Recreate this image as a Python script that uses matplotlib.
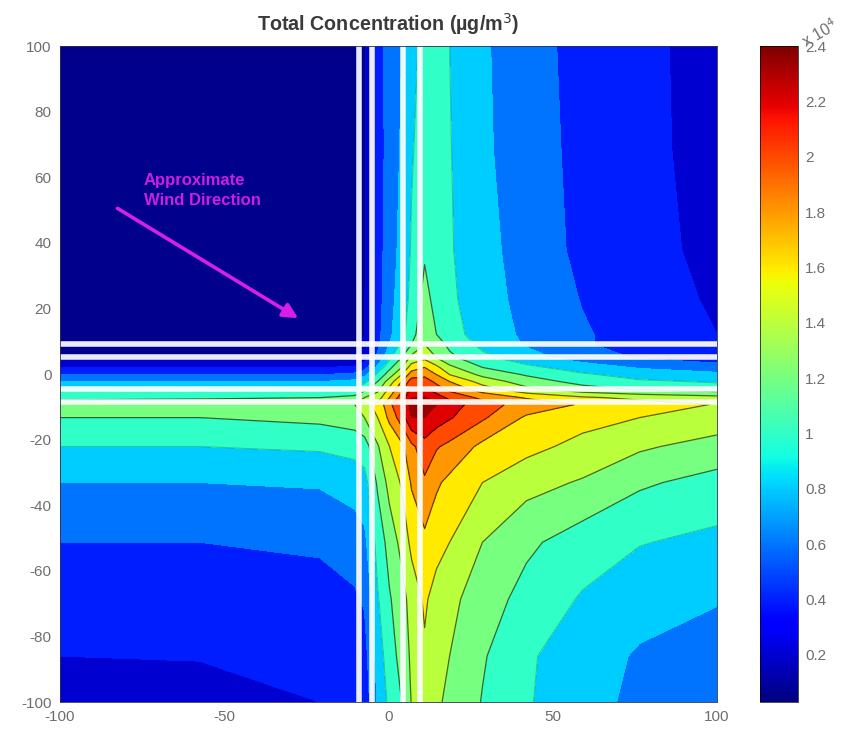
import matplotlib
matplotlib.use("Agg")
import numpy as np
import matplotlib.pyplot as plt
from matplotlib.cm import ScalarMappable
from matplotlib.colors import Normalize

plt.rcParams["font.family"] = ["Liberation Sans", "DejaVu Sans"]
plt.rcParams["axes.unicode_minus"] = False

# grid, concentration in units of 1e4
x_nodes = [-100.0, -57.4, -20.9, -10.3, -7.3, -3.3, 0.3, 4.0, 7.0, 11.0, 14.6, 18.6, 28.6, 42.0, 59.1, 76.4, 100.0]
y_nodes = [100.0, 68.4, 37.9, 22.7, 12.1, 9.0, 5.0, 2.0, -0.2, -2.3, -4.7, -7.2, -9.3, -13.3, -22.1, -33.1, -51.3, -68.7, -86.0, -100.0]

z_rows = [
    [.05, .05, .05, .05, .07, .40, .60, .70, .85, .95, .97, .90, .73, .57, .44, .35, .22],
    [.05, .05, .05, .05, .07, .38, .60, .72, .88, 1.0, 1.0, .91, .74, .58, .45, .35, .23],
    [.05, .05, .05, .06, .08, .40, .62, .75, .92, 1.07, 1.02, .92, .76, .62, .45, .36, .25],
    [.05, .05, .06, .07, .09, .42, .63, .80, .95, 1.17, 1.03, .94, .78, .64, .49, .40, .27],
    [.06, .06, .06, .07, .10, .44, .66, .85, 1.0, 1.30, 1.10, .97, .82, .66, .52, .42, .30],
    [.06, .06, .06, .07, .12, .45, .70, .95, 1.10, 1.30, 1.20, 1.05, .85, .68, .52, .42, .30],
    [.09, .09, .09, .10, .20, .55, .85, 1.10, 1.35, 1.45, 1.30, 1.15, .95, .78, .60, .48, .38],
    [.30, .30, .30, .32, .42, .75, 1.05, 1.30, 1.60, 1.70, 1.55, 1.35, 1.10, .95, .80, .68, .60],
    [.50, .50, .50, .55, .65, .95, 1.20, 1.50, 1.80, 1.85, 1.70, 1.50, 1.25, 1.08, .93, .82, .75],
    [.70, .70, .70, .75, .85, 1.10, 1.40, 1.70, 2.00, 2.00, 1.85, 1.70, 1.42, 1.20, 1.03, .93, .88],
    [.90, .90, .90, .95, 1.05, 1.25, 1.55, 1.85, 2.15, 2.15, 2.00, 1.85, 1.60, 1.35, 1.18, 1.08, 1.00],
    [1.05, 1.07, 1.10, 1.15, 1.30, 1.40, 1.70, 2.00, 2.30, 2.32, 2.20, 2.05, 1.85, 1.68, 1.53, 1.45, 1.38],
    [1.20, 1.22, 1.25, 1.30, 1.45, 1.55, 1.85, 2.10, 2.38, 2.38, 2.30, 2.20, 1.98, 1.82, 1.68, 1.59, 1.49],
    [1.10, 1.10, 1.15, 1.20, 1.30, 1.50, 1.75, 2.00, 2.30, 2.30, 2.20, 2.12, 1.93, 1.67, 1.57, 1.50, 1.42],
    [.90, .90, .93, .97, 1.00, 1.28, 1.50, 1.65, 1.85, 2.02, 1.92, 1.85, 1.65, 1.56, 1.44, 1.33, 1.22],
    [.70, .70, .72, .78, .83, 1.13, 1.37, 1.52, 1.72, 1.87, 1.73, 1.65, 1.50, 1.37, 1.28, 1.13, 1.03],
    [.50, .50, .53, .60, .65, .97, 1.18, 1.36, 1.55, 1.65, 1.57, 1.50, 1.30, 1.14, 1.00, .91, .85],
    [.40, .40, .42, .47, .52, .88, 1.08, 1.22, 1.38, 1.53, 1.42, 1.35, 1.20, 1.03, .88, .77, .71],
    [.30, .31, .34, .38, .42, .78, 1.02, 1.16, 1.34, 1.47, 1.35, 1.30, 1.12, .93, .78, .68, .63],
    [.20, .22, .30, .33, .37, .72, .95, 1.10, 1.31, 1.44, 1.33, 1.26, 1.09, .92, .76, .66, .60],
]

fill_levels = [.03, .1, .3, .5, .7, .9, 1.1, 1.3, 1.5, 1.7, 1.9, 2.1, 2.3, 2.4]
line_levels = [1.1, 1.3, 1.5, 1.7, 1.9, 2.1]
faint_levels = [.9]

road_x = [-9.0, -5.0, 4.4, 9.6]
road_y = [9.0, 5.2, -4.7, -8.6]

x_ticks = [-100, -50, 0, 50, 100]
y_ticks = [100, 80, 60, 40, 20, 0, -20, -40, -60, -80, -100]
cbar_ticks = [.2, .4, .6, .8, 1, 1.2, 1.4, 1.6, 1.8, 2, 2.2, 2.4]
cbar_labels = ["0.2", "0.4", "0.6", "0.8", "1", "1.2", "1.4", "1.6", "1.8", "2", "2.2", "2.4"]

wind_start = (-82.5, 50.5)
wind_end = (-27.5, 17.0)

W, H = 848, 729
fig = plt.figure(figsize=(W / 100, H / 100), dpi=100)
ax = fig.add_axes([60 / W, (H - 702) / H, 657 / W, 656 / H])
cax = fig.add_axes([760 / W, (H - 702) / H, 38 / W, 656 / H])

norm = Normalize(.03, 2.4)
z = np.array(z_rows)
ax.contourf(x_nodes, y_nodes, z, levels=fill_levels, cmap="jet", norm=norm)
ax.contour(x_nodes, y_nodes, z, levels=line_levels, colors="black", linewidths=0.9, alpha=0.6)
ax.contour(x_nodes, y_nodes, z, levels=faint_levels, colors="black", linewidths=0.8, alpha=0.22)

for rx in road_x:
    ax.axvline(rx, color="white", lw=4.0, alpha=0.92)
for ry in road_y:
    ax.axhline(ry, color="white", lw=4.0, alpha=0.92)

ax.annotate("", xy=wind_end, xytext=wind_start,
            arrowprops=dict(arrowstyle="-|>", color="#d81ee8", lw=2.6, mutation_scale=22, shrinkA=0, shrinkB=0))
ax.text(-74.5, 55.9, "Approximate\nWind Direction", color="#d01ee0", fontsize=12,
        fontweight="bold", va="center", ha="left", linespacing=1.42)

ax.set_xlim(-100, 100)
ax.set_ylim(-100, 100)
ax.set_xticks(x_ticks)
ax.set_yticks(y_ticks)
ax.tick_params(length=0, labelsize=11, labelcolor="#6e6e6e", pad=6)
for s in ax.spines.values():
    s.set_linewidth(0.6)
    s.set_color("#30304a")
ax.set_title("Total Concentration (\u00b5g/m$^3$)", fontsize=14.2, fontweight="bold",
             color="#3a3a3a", pad=11)

sm = ScalarMappable(norm=norm, cmap="jet")
cb = fig.colorbar(sm, cax=cax)
cb.set_ticks(cbar_ticks)
cb.set_ticklabels(cbar_labels)
cb.ax.tick_params(length=0, labelsize=11, labelcolor="#6e6e6e", pad=5)
cb.outline.set_linewidth(0.5)
fig.text(820 / W, (H - 33) / H, "x 10$^4$", color="#6e6e6e", fontsize=11.5, rotation=30,
         ha="center", va="center")

fig.savefig("out.png", dpi=100)
